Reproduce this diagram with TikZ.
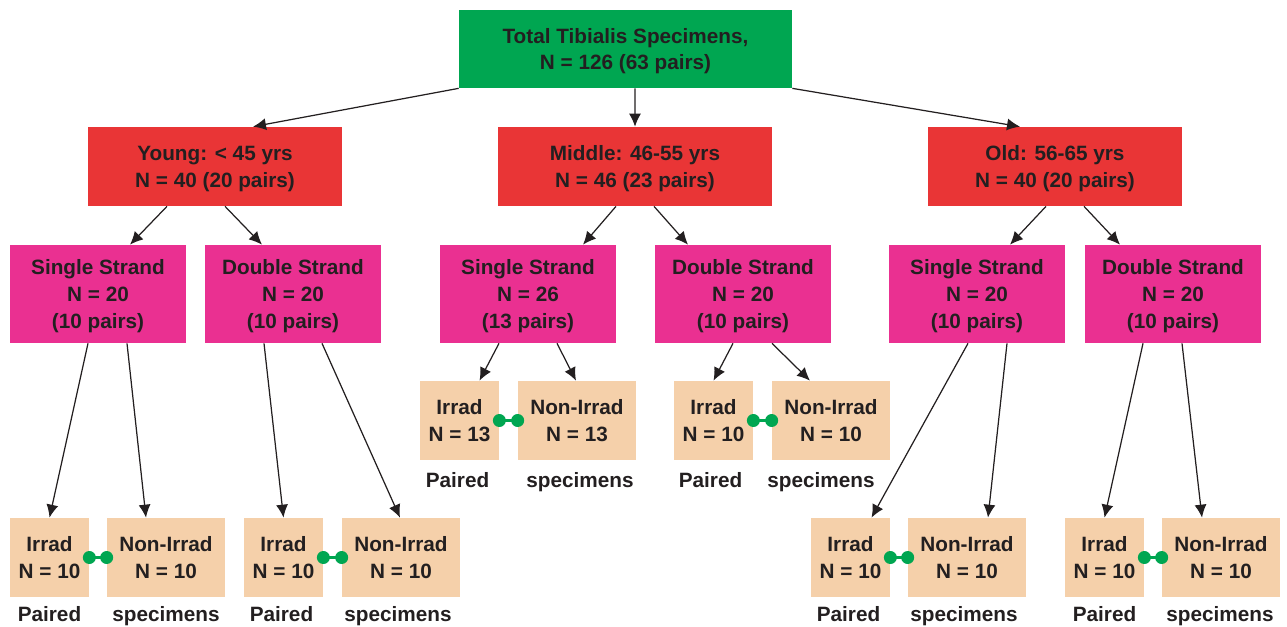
\documentclass[tikz,border=0pt]{standalone}
\usepackage{fontspec}
\setmainfont{Liberation Sans}
\usetikzlibrary{calc,arrows.meta}
\definecolor{ink}{RGB}{35,31,32}
\definecolor{totgreen}{RGB}{0,166,81}
\definecolor{agered}{RGB}{233,53,54}
\definecolor{strandpink}{RGB}{234,48,145}
\definecolor{peach}{RGB}{245,208,170}
\tikzset{
  box/.style={inner sep=0pt,align=center,text=ink,text depth=0pt},
  totbox/.style={box,fill=totgreen,minimum width=6.66cm,minimum height=1.56cm},
  agebox/.style={box,fill=agered,minimum width=#1,minimum height=1.58cm},
  strandbox/.style={box,fill=strandpink,minimum width=3.52cm,minimum height=1.96cm},
  irrbox/.style={box,fill=peach,minimum width=1.58cm,minimum height=1.58cm},
  nonbox/.style={box,fill=peach,minimum width=2.36cm,minimum height=1.58cm},
  arr/.style={draw=ink,line width=0.7pt,-{Latex[length=0.26cm,width=0.24cm]}},
  pairlink/.style={draw=totgreen,line width=1.2pt},
  note/.style={text=ink,anchor=base}
}
\begin{document}
\begin{tikzpicture}[x=0.02cm,y=-0.02cm,font=\fontsize{11.8}{15.3}\selectfont\bfseries]
\useasboundingbox (0,0) rectangle (1287,626);

% top and age groups
\node[totbox] (tot) at (625.5,49) {Total Tibialis Specimens,\\N = 126 (63 pairs)};
\node[agebox=5.08cm] (young) at (215,166.5) {Young: < 45 yrs\\N = 40 (20 pairs)};
\node[agebox=5.48cm] (mid) at (635,166.5) {Middle: 46-55 yrs\\N = 46 (23 pairs)};
\node[agebox=5.08cm] (old) at (1055,166.5) {Old: 56-65 yrs\\N = 40 (20 pairs)};

% strands
\node[strandbox] (ys) at (98,294) {Single Strand\\N = 20\\(10 pairs)};
\node[strandbox] (yd) at (293,294) {Double Strand\\N = 20\\(10 pairs)};
\node[strandbox] (ms) at (528,294) {Single Strand\\N = 26\\(13 pairs)};
\node[strandbox] (md) at (743,294) {Double Strand\\N = 20\\(10 pairs)};
\node[strandbox] (os) at (977,294) {Single Strand\\N = 20\\(10 pairs)};
\node[strandbox] (od) at (1173,294) {Double Strand\\N = 20\\(10 pairs)};

% irradiated / non-irradiated
\node[irrbox] (ys-i) at (49.5,557.5) {Irrad\\N = 10};
\node[nonbox] (ys-n) at (166,557.5) {Non-Irrad\\N = 10};
\node[irrbox] (yd-i) at (283.5,557.5) {Irrad\\N = 10};
\node[nonbox] (yd-n) at (401,557.5) {Non-Irrad\\N = 10};
\node[irrbox] (ms-i) at (459.5,420.5) {Irrad\\N = 13};
\node[nonbox] (ms-n) at (577,420.5) {Non-Irrad\\N = 13};
\node[irrbox] (md-i) at (713.5,420.5) {Irrad\\N = 10};
\node[nonbox] (md-n) at (831,420.5) {Non-Irrad\\N = 10};
\node[irrbox] (os-i) at (850.5,557.5) {Irrad\\N = 10};
\node[nonbox] (os-n) at (967,557.5) {Non-Irrad\\N = 10};
\node[irrbox] (od-i) at (1104.5,557.5) {Irrad\\N = 10};
\node[nonbox] (od-n) at (1221,557.5) {Non-Irrad\\N = 10};

% arrows
\draw[arr] (tot.south west) -- ($(young.north)+(38,0)$);
\draw[arr] ($(tot.south)+(9.5,0)$) -- (mid.north);
\draw[arr] (tot.south east) -- ($(old.north)+(-35,0)$);
\draw[arr] ($(young.south)+(-48,0)$) -- ($(ys.north)+(32,0)$);
\draw[arr] ($(young.south)+(10,0)$) -- ($(yd.north)+(-31,0)$);
\draw[arr] ($(mid.south)+(-19,0)$) -- ($(ms.north)+(55,0)$);
\draw[arr] ($(mid.south)+(19,0)$) -- ($(md.north)+(-55,0)$);
\draw[arr] ($(old.south)+(-9,0)$) -- ($(os.north)+(33,0)$);
\draw[arr] ($(old.south)+(29,0)$) -- ($(od.north)+(-53,0)$);
\draw[arr] ($(ys.south)+(-10,0)$) -- (ys-i.north);
\draw[arr] ($(ys.south)+(29,0)$) -- ($(ys-n.north)+(-20,0)$);
\draw[arr] ($(yd.south)+(-29,0)$) -- (yd-i.north);
\draw[arr] ($(yd.south)+(29,0)$) -- ($(yd-n.north)+(-1,0)$);
\draw[arr] ($(ms.south)+(-29,0)$) -- ($(ms-i.north)+(20,0)$);
\draw[arr] ($(ms.south)+(29,0)$) -- ($(ms-n.north)+(-1,0)$);
\draw[arr] ($(md.south)+(-10,0)$) -- (md-i.north);
\draw[arr] ($(md.south)+(29,0)$) -- ($(md-n.north)+(-21,0)$);
\draw[arr] ($(os.south)+(-9,0)$) -- ($(os-i.north)+(21,0)$);
\draw[arr] ($(os.south)+(30,0)$) -- ($(os-n.north)+(21,0)$);
\draw[arr] ($(od.south)+(-30,0)$) -- (od-i.north);
\draw[arr] ($(od.south)+(9,0)$) -- ($(od-n.north)+(-19,0)$);

% pair links and notes
\foreach \p/\d/\a/\b in {ys/24/0/0,yd/24/-2/-3,ms/27/-2/3,md/27/-3/-10,os/24/-2/-3,od/24/0/-1}{
  \draw[pairlink] (\p-i.east) -- (\p-n.west);
  \fill[totgreen] (\p-i.east) circle (0.13cm) (\p-n.west) circle (0.13cm);
  \node[note] (\p-pl) at ($(\p-i.south)+(\a,\d)$) {Paired};
  \node[note] (\p-sl) at ($(\p-n.south)+(\b,\d)$) {specimens};
}

\end{tikzpicture}
\end{document}
